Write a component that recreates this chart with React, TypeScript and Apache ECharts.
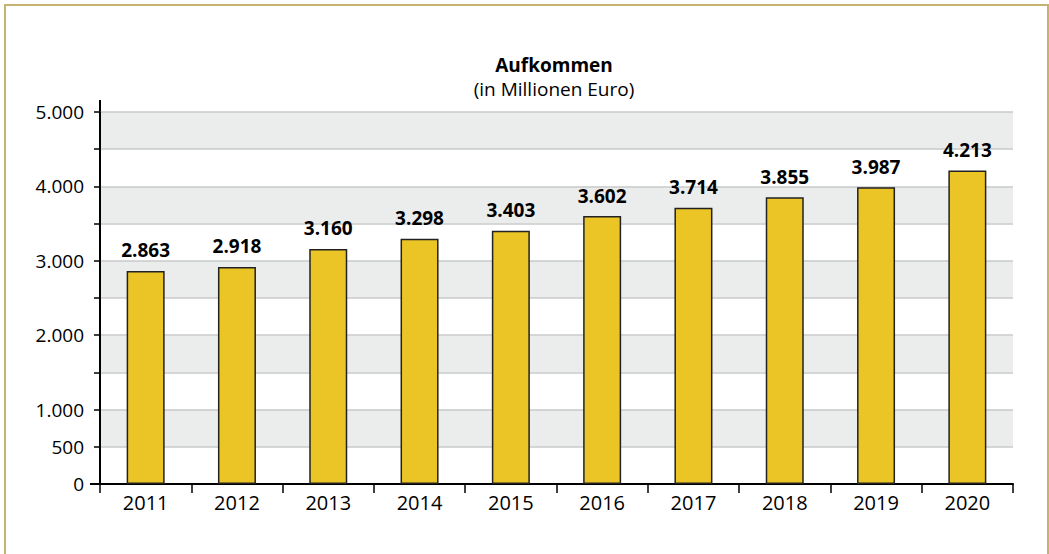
import React, { useEffect, useRef } from "react";
import * as echarts from "echarts";

const years = ["2011", "2012", "2013", "2014", "2015", "2016", "2017", "2018", "2019", "2020"];
const values = [2863, 2918, 3160, 3298, 3403, 3602, 3714, 3855, 3987, 4213];
const labeledTicks = [0, 500, 1000, 2000, 3000, 4000, 5000];
const titleText = "Aufkommen";
const subtitleText = "(in Millionen Euro)";

const FONT = "'Open Sans', 'Noto Sans', sans-serif";
const fmt = (v: number) => v.toLocaleString("de-DE");

export default function App() {
  const ref = useRef<HTMLDivElement>(null);
  useEffect(() => {
    if (!ref.current) return;
    const chart = echarts.init(ref.current, undefined, { renderer: "svg" });
    const gridLeft = 100;
    const gridTop = 112;
    const gridRight = 1049 - 1013;
    const gridBottom = 554 - 484;
    chart.setOption({
      animation: false,
      backgroundColor: "#ffffff",
      title: {
        text: titleText,
        subtext: subtitleText,
        left: 549,
        top: 50,
        textAlign: "center",
        itemGap: 5,
        textStyle: { fontFamily: FONT, fontSize: 19, fontWeight: "bold", color: "#000" },
        subtextStyle: { fontFamily: FONT, fontSize: 19, color: "#000" },
      },
      grid: { left: gridLeft, top: gridTop, right: gridRight, bottom: gridBottom, containLabel: false },
      xAxis: {
        type: "category",
        data: years,
        boundaryGap: true,
        axisLine: { show: true, lineStyle: { color: "#000", width: 2 } },
        axisTick: { show: true, alignWithLabel: false, length: 9, lineStyle: { color: "#000", width: 1.5 } },
        axisLabel: { fontFamily: FONT, fontSize: 20, color: "#000", margin: 8 },
        splitLine: { show: false },
      },
      yAxis: {
        type: "value",
        min: 0,
        max: 5000,
        interval: 500,
        axisLine: { show: true, lineStyle: { color: "#000", width: 2 } },
        axisTick: { show: true, length: 6, lineStyle: { color: "#000", width: 1.5 } },
        axisLabel: {
          fontFamily: FONT,
          fontSize: 19,
          color: "#000",
          margin: 16,
          formatter: (v: number) => (labeledTicks.includes(v) ? fmt(v) : ""),
        },
        splitLine: { show: true, lineStyle: { color: "#c9caca", width: 1.5 } },
        splitArea: { show: true, areaStyle: { color: ["#ffffff", "#ebecec"] } },
      },
      series: [
        {
          type: "bar",
          data: values,
          barWidth: 38,
          itemStyle: { color: "#EBC526", borderColor: "#222", borderWidth: 1.5 },
          label: {
            show: true,
            position: "top",
            distance: 11,
            formatter: (p: any) => fmt(p.value),
            fontFamily: FONT,
            fontSize: 19,
            fontWeight: "bold",
            color: "#000",
          },
        },
      ],
      graphic: [
        {
          type: "rect",
          shape: { x: 5, y: 5, width: 1043, height: 600 },
          style: { fill: "none", stroke: "#C5B36F", lineWidth: 2 },
          silent: true,
        },
        {
          type: "line",
          shape: { x1: 100, y1: 100, x2: 100, y2: 113 },
          style: { stroke: "#000", lineWidth: 2 },
          silent: true,
        },
        {
          type: "line",
          shape: { x1: 90, y1: 484, x2: 100, y2: 484 },
          style: { stroke: "#000", lineWidth: 2 },
          silent: true,
        },
      ],
    });
    return () => chart.dispose();
  }, []);
  return (
    <div
      ref={ref}
      style={{ position: "absolute", left: 0, top: 0, width: 1049, height: 554 }}
    />
  );
}
